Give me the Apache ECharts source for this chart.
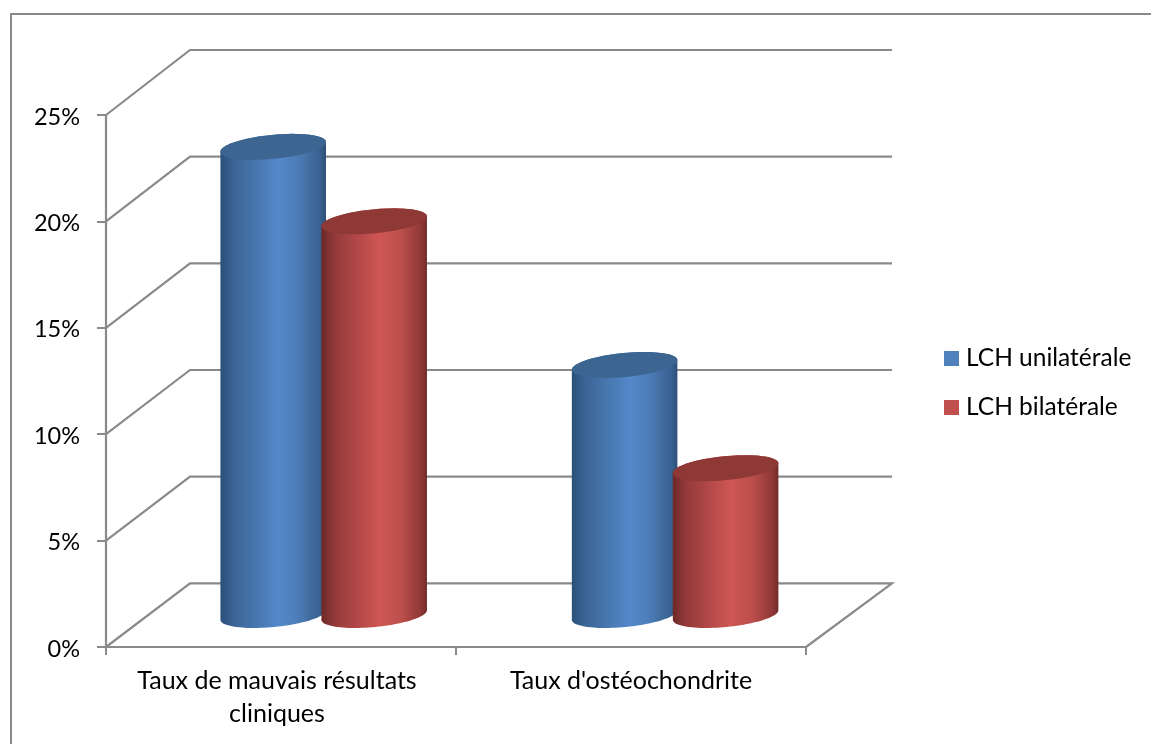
<!DOCTYPE html>
<html>
<head>
<meta charset="utf-8">
<title>LCH unilatérale / bilatérale</title>
<script src="https://cdn.jsdelivr.net/npm/echarts@6/dist/echarts.min.js"></script>
<style>
  html, body { margin: 0; padding: 0; background: #fff; overflow: hidden; }
  #chart { width: 1151px; height: 744px; }
</style>
</head>
<body>
<div id="chart"></div>
<script>
// Chart values, in percent
const categories = ['Taux de mauvais résultats\ncliniques', "Taux d'ostéochondrite"];
const seriesNames = ['LCH unilatérale', 'LCH bilatérale'];
const unilaterale = [22, 11.75];
const bilaterale = [18.5, 6.9];
const levels = [0, 5, 10, 15, 20, 25];

// Right padding per category label: the wrapped label sits a little left of its band centre
const categoryLabelPad = [8, 0];

// Oblique projection used for the pseudo-3D look
const wallDx = 84, wallRightDx = 86;
const wallDyFloor = -63.7, wallDyPerUnit = -0.052;
const barDx = 42, barDxStretch = 0.004, barDy = -32;
const barRatio = 0.303, barSpacing = 0.2885;
const tilt = -5.5 * Math.PI / 180, minorAxis = 12;
const lineColor = '#8a8a8a';
const fontFamily = 'Lato, Carlito, sans-serif';

// Point on a tilted ellipse at parameter t
function ellipsePoint(cx, cy, rx, t) {
  const ex = rx * Math.cos(t), ey = minorAxis * Math.sin(t);
  return [cx + ex * Math.cos(tilt) - ey * Math.sin(tilt),
          cy + ex * Math.sin(tilt) + ey * Math.cos(tilt)];
}

function ellipseArc(cx, cy, rx, from, to) {
  const pts = [];
  for (let i = 0; i <= 48; i++) pts.push(ellipsePoint(cx, cy, rx, from + (to - from) * i / 48));
  return pts;
}

function cylinderSeries(name, values, side, colors) {
  return {
    name: name,
    type: 'custom',
    silent: true,
    animation: false,
    z: side > 0 ? 4 : 3,
    itemStyle: { color: colors.legend },
    data: values.map((v, i) => [i, v]),
    renderItem: function (params, api) {
      const band = api.size([1, 0])[0];
      const top = api.coord([api.value(0), api.value(1)]);
      const base = api.coord([api.value(0), 0]);
      const cx = top[0] + barDx + (top[0] - params.coordSys.x) * barDxStretch + side * band * barSpacing / 2;
      const rx = band * barRatio / 2;
      const yTop = top[1] + barDy, yBase = base[1] + barDy;
      // Body: top rim's front half is covered by the cap, so go straight along the back
      const body = ellipseArc(cx, yBase, rx, Math.PI, 0)
        .concat(ellipseArc(cx, yTop, rx, 0, -Math.PI));
      return {
        type: 'group',
        children: [
          {
            type: 'polygon',
            shape: { points: body },
            style: {
              fill: {
                type: 'linear', x: 0, y: 0, x2: 1, y2: 0,
                colorStops: colors.side
              }
            }
          },
          {
            type: 'polygon',
            shape: { points: ellipseArc(cx, yTop, rx, 0, 2 * Math.PI) },
            style: { fill: colors.cap }
          }
        ]
      };
    }
  };
}

const blue = {
  legend: '#4f81bd',
  cap: '#3c6592',
  side: [
    { offset: 0, color: '#2b4f78' },
    { offset: 0.12, color: '#3a6493' },
    { offset: 0.55, color: '#5488ca' },
    { offset: 0.72, color: '#4d7eb9' },
    { offset: 0.95, color: '#395f8e' },
    { offset: 1, color: '#2f4f76' }
  ]
};
const red = {
  legend: '#c0504d',
  cap: '#8f3936',
  side: [
    { offset: 0, color: '#6b2826' },
    { offset: 0.12, color: '#93393a' },
    { offset: 0.55, color: '#cf5654' },
    { offset: 0.75, color: '#bd4f4c' },
    { offset: 0.95, color: '#8c3735' },
    { offset: 1, color: '#702b29' }
  ]
};

// Back wall and floor lines, one per axis level
const wallSeries = {
  type: 'custom',
  silent: true,
  animation: false,
  z: 1,
  data: levels.map(l => [0, l]),
  renderItem: function (params, api) {
    const cs = params.coordSys;
    const level = api.value(1);
    const y = api.coord([0, level])[1];
    const dy = wallDyFloor + wallDyPerUnit * level;
    const left = cs.x, right = cs.x + cs.width;
    const pts = [[left, y], [left + wallDx, y + dy], [right + wallRightDx, y + dy]];
    if (level === 0) pts.push([right, y]);
    return {
      type: 'polyline',
      shape: { points: pts },
      style: { stroke: lineColor, lineWidth: 2.2, fill: null }
    };
  }
};

const chart = echarts.init(document.getElementById('chart'), null, { renderer: 'canvas' });
chart.setOption({
  animation: false,
  backgroundColor: '#ffffff',
  textStyle: { fontFamily: fontFamily },
  graphic: [{
    type: 'rect',
    shape: { x: 11, y: 14, width: 1400, height: 1000 },
    style: { fill: null, stroke: lineColor, lineWidth: 2 },
    silent: true,
    z: 0
  }],
  grid: { left: 106, right: 345, top: 115, bottom: 97 },
  legend: {
    data: seriesNames,
    orient: 'vertical',
    left: 944,
    top: 346,
    padding: 0,
    itemWidth: 15,
    itemHeight: 15,
    itemGap: 24,
    icon: 'rect',
    selectedMode: false,
    textStyle: { fontFamily: fontFamily, fontSize: 24.5, color: '#000', padding: [0, 0, 0, 2] }
  },
  xAxis: {
    type: 'category',
    data: categories.map((c, i) => ({ value: c, textStyle: { padding: [0, categoryLabelPad[i], 0, 0] } })),
    axisLine: { lineStyle: { color: lineColor, width: 2.2 } },
    axisTick: { show: true, alignWithLabel: false, length: 8, lineStyle: { color: lineColor, width: 2 } },
    axisLabel: { color: '#000', fontFamily: fontFamily, fontSize: 25, lineHeight: 33, margin: 17, interval: 0 }
  },
  yAxis: {
    type: 'value',
    min: 0,
    max: 25,
    interval: 5,
    splitLine: { show: false },
    axisLine: { show: true, lineStyle: { color: lineColor, width: 2.2 } },
    axisTick: { show: true, length: 9, lineStyle: { color: lineColor, width: 2 } },
    axisLabel: {
      color: '#000',
      margin: 26,
      formatter: '{v|{value}%}',
      rich: { v: { color: '#000', fontFamily: fontFamily, fontSize: 23.5, padding: [4, 0, 0, 0] } }
    }
  },
  series: [
    wallSeries,
    cylinderSeries(seriesNames[0], unilaterale, -1, blue),
    cylinderSeries(seriesNames[1], bilaterale, 1, red)
  ]
});
</script>
</body>
</html>
